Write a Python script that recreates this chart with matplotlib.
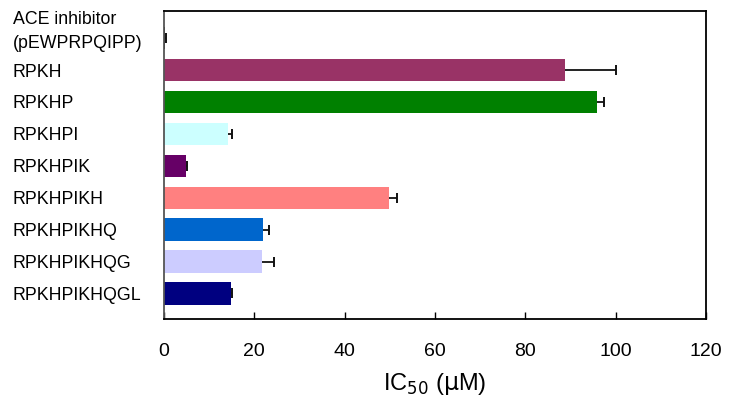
import numpy as np
import matplotlib.pyplot as plt
from matplotlib.transforms import ScaledTranslation

plt.rcParams['font.family'] = ['Liberation Sans', 'DejaVu Sans']

peptides = ['ACE inhibitor\n(pEWPRPQIPP)', 'RPKH', 'RPKHP', 'RPKHPI', 'RPKHPIK',
            'RPKHPIKH', 'RPKHPIKHQ', 'RPKHPIKHQG', 'RPKHPIKHQGL']
ic50 = [0.3, 88.8, 95.8, 14.1, 4.8, 49.8, 21.9, 21.7, 14.8]
ic50_err = [0.2, 11.2, 1.6, 1.0, 0.4, 1.9, 1.3, 2.7, 0.3]
bar_colors = ['#000000', '#993366', '#008000', '#CCFFFF', '#660066',
              '#FF8080', '#0066CC', '#CCCCFF', '#000080']
xticks = [0, 20, 40, 60, 80, 100, 120]

fig = plt.figure(figsize=(7.35, 4.01), dpi=100)
ax = fig.add_axes([0.2231, 0.2045, 0.9605 - 0.2231, 0.9726 - 0.2045])

y = np.arange(len(peptides))
vals = np.array(ic50)
errs = np.array(ic50_err)
ax.barh(y, vals, height=0.7, color=bar_colors)
# one-sided error bars (upper side only)
ax.errorbar(vals, y, xerr=[np.zeros_like(errs), errs], fmt='none',
            ecolor='#111111', elinewidth=1.3, capsize=0)
ax.plot(vals + errs, y, ls='none', marker='|', ms=7, mew=1.4, color='#111111')

ax.set_xlim(0, 120)
ax.set_ylim(len(peptides) - 0.2, -0.85)
ax.set_xticks(xticks)
ax.set_xticklabels([str(v) for v in xticks], fontsize=14)
ax.tick_params(axis='x', direction='in', length=5, width=1, pad=17)
ax.set_yticks(y)
ax.set_yticklabels(peptides, fontsize=12.8, ha='left', linespacing=1.5)
ax.tick_params(axis='y', length=0, pad=151 * 72 / 100)
lbl = ax.get_yticklabels()[0]
lbl.set_transform(lbl.get_transform() + ScaledTranslation(0, 12 / 100, fig.dpi_scale_trans))
ax.set_xlabel('IC$_{50}$ ($\\mathrm{\\mu}$M)', fontsize=17, labelpad=8)

for s in ax.spines.values():
    s.set_linewidth(1.3)
ax.spines['left'].set_color('#555555')

fig.savefig('out.png', dpi=100)
